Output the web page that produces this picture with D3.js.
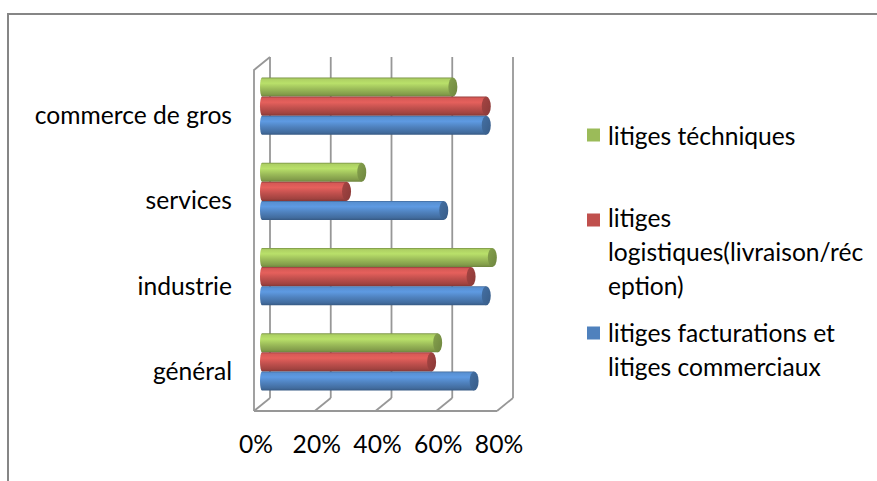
<!DOCTYPE html>
<html><head><meta charset="utf-8">
<script src="https://cdn.jsdelivr.net/npm/d3@7"></script>
<style>html,body{margin:0;padding:0;background:#fff;overflow:hidden}</style>
</head><body>
<svg id="chart" width="877" height="481"></svg>
<script>
// ---------- data ----------
const categories = ["commerce de gros", "services", "industrie", "général"];
const seriesNames = ["litiges téchniques", "litiges logistiques(livraison/réception)", "litiges facturations et litiges commerciaux"];
const techniques   = [63, 33, 76, 58];
const logistiques  = [74, 28, 69, 56];
const facturations = [74, 60, 74, 70];
const tickValues = [0, 20, 40, 60, 80];
const tickLabels = ["0%", "20%", "40%", "60%", "80%"];
const legendLines = [["litiges téchniques"], ["litiges", "logistiques(livraison/réc", "eption)"], ["litiges facturations et", "litiges commerciaux"]];

// ---------- styles ----------
const colors = ["#9bbb59", "#c0504d", "#4f81bd"];
const FONT = "Lato, 'Open Sans', sans-serif";
const svg = d3.select("#chart");

// calibrate font size to the reference (Calibri-like metrics)
const probe = svg.append("text").attr("font-family", FONT).attr("font-size", 100).text("litiges facturations et");
const fs = 100 * 227 / probe.node().getComputedTextLength();
probe.remove();

// ---------- geometry ----------
const front = {left: 254, right: 497, top: 70, bottom: 411};
const depth = {dx: 16, dy: -13};
const xFront = d3.scaleLinear().domain([0, 80]).range([front.left, front.right]);
const xBack = v => xFront(v) + depth.dx;
const xMid = v => xFront(v) + depth.dx / 2;
const yMid = d3.scaleBand().domain(categories)
  .range([front.top + depth.dy / 2, front.bottom + depth.dy / 2]).paddingInner(0).paddingOuter(0);
const groupInner = 0.67; // fraction of band used by bars

// outer frame
svg.append("path").attr("d", `M8,481 L8,14 L877,14`).attr("fill", "none")
  .attr("stroke", "#868686").attr("stroke-width", 2);

// gradients
const defs = svg.append("defs");
colors.forEach((c, i) => {
  const base = d3.color(c);
  const g = defs.append("linearGradient").attr("id", "cyl" + i).attr("x1", 0).attr("y1", 0).attr("x2", 0).attr("y2", 1);
  g.append("stop").attr("offset", "0%").attr("stop-color", base.darker(0.7));
  g.append("stop").attr("offset", "8%").attr("stop-color", base.brighter(0.3));
  g.append("stop").attr("offset", "30%").attr("stop-color", base.brighter(0.5));
  g.append("stop").attr("offset", "60%").attr("stop-color", base);
  g.append("stop").attr("offset", "88%").attr("stop-color", base.darker(0.5));
  g.append("stop").attr("offset", "100%").attr("stop-color", base.darker(1.0));
  const gc = defs.append("linearGradient").attr("id", "cap" + i).attr("x1", 0).attr("y1", 0).attr("x2", 1).attr("y2", 1);
  gc.append("stop").attr("offset", "0%").attr("stop-color", base.darker(0.4));
  gc.append("stop").attr("offset", "100%").attr("stop-color", base.darker(0.95));
});

// walls & gridlines
const gridColor = "#979797";
const grid = svg.append("g").attr("fill", "none").attr("stroke", gridColor).attr("stroke-width", 1.8);
tickValues.forEach(v => {
  grid.append("line").attr("x1", xBack(v)).attr("x2", xBack(v))
    .attr("y1", front.top + depth.dy).attr("y2", front.bottom + depth.dy);
  grid.append("line").attr("x1", xFront(v)).attr("x2", xBack(v))
    .attr("y1", front.bottom).attr("y2", front.bottom + depth.dy);
});
grid.append("path").attr("d",
  `M${xFront(0)},${front.bottom} L${xFront(0)},${front.top} L${xBack(0)},${front.top + depth.dy}`);
grid.append("line").attr("x1", xFront(0)).attr("x2", xFront(80)).attr("y1", front.bottom).attr("y2", front.bottom);

// bars
const series = [techniques, logistiques, facturations];
const rx = 4.5;
categories.forEach((cat, ci) => {
  const bandH = yMid.bandwidth() * groupInner;
  const top = yMid(cat) + (yMid.bandwidth() - bandH) / 2;
  const h = bandH / series.length;
  series.forEach((vals, si) => {
    const y = top + si * h;
    const x0 = xMid(0) - 2;
    const cx = xMid(vals[ci]) - 0.5;
    const g = svg.append("g");
    g.append("path")
      .attr("d", `M${cx},${y} L${x0 + 2},${y} A2,${h / 2} 0 0 0 ${x0 + 2},${y + h} L${cx},${y + h} Z`)
      .attr("fill", `url(#cyl${si})`);
    g.append("ellipse").attr("cx", cx).attr("cy", y + h / 2).attr("rx", rx).attr("ry", h / 2)
      .attr("fill", `url(#cap${si})`);
  });
});

// category labels
svg.append("g").selectAll("text").data(categories).join("text")
  .attr("x", 232).attr("y", d => yMid(d) + yMid.bandwidth() / 2 - depth.dy / 2 + 2)
  .attr("text-anchor", "end").attr("dominant-baseline", "central")
  .attr("font-family", FONT).attr("font-size", fs).attr("fill", "#000").text(d => d);

// x axis labels
svg.append("g").selectAll("text").data(tickValues).join("text")
  .attr("x", d => xFront(d) + 2).attr("y", 453)
  .attr("text-anchor", "middle")
  .attr("font-family", FONT).attr("font-size", fs).attr("fill", "#000").text((d, i) => tickLabels[i]);

// legend
const legendY = [[135], [217, 251, 285], [332, 366]];
const legendSq = [135, 220, 333];
const leg = svg.append("g");
legendLines.forEach((lines, i) => {
  leg.append("rect").attr("x", 587).attr("y", legendSq[i] - 6.5).attr("width", 13).attr("height", 13).attr("fill", colors[i]);
  lines.forEach((t, j) => {
    leg.append("text").attr("x", 608).attr("y", legendY[i][j]).attr("dominant-baseline", "central")
      .attr("font-family", FONT).attr("font-size", fs).attr("fill", "#000").text(t);
  });
});
</script>
</body></html>
